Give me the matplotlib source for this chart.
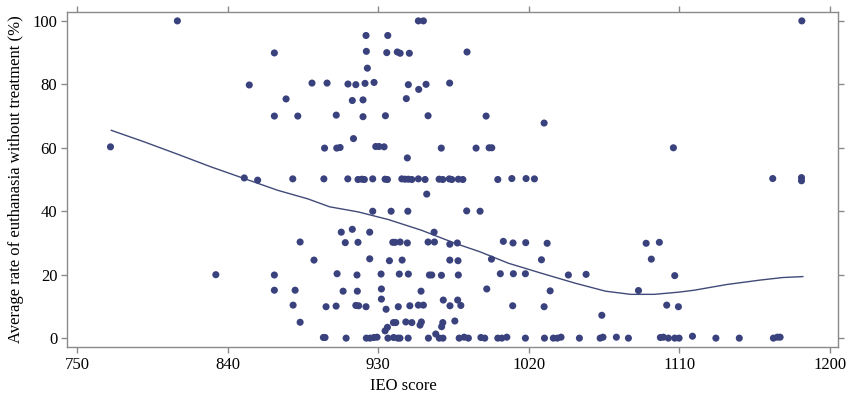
import numpy as np
import matplotlib
matplotlib.use('Agg')
import matplotlib.pyplot as plt

plt.rcParams['font.family'] = ['Liberation Serif', 'DejaVu Serif']
plt.rcParams['font.size'] = 12

#%% Scatter data (IEO score, rate %).
ieo_score = [
    770, 810, 833, 850, 858, 879, 853, 868, 875, 868, 882, 890.5,
    883.4, 891.7, 868, 868, 880.4, 879.2, 883.4,
    899.5, 912, 916.7, 914.6, 905, 915.3, 898, 905.3, 907.3,
    908, 914.6, 910.4, 918, 905.5, 917.4, 909.1, 917.6,
    898.9, 904.9, 916.7, 918.4,
    954.1, 957.1, 922.8, 935.8, 923, 935.2, 941.5, 943.2, 948.7, 983.2,
    923.6, 922.2, 927.6, 948.1, 954.3, 958.7, 972.8, 921, 946.9,
    921, 934.4, 959.9, 994.6, 1029.3,
    928.6, 930.6, 933.6, 967.8, 988.6, 996.4, 998, 1106.6, 947.5,
    # 50 row
    897.6, 911.9, 918.0, 920.3, 921.8, 926.8, 934.2, 935.6, 944.2, 946.1,
    948.1, 950.2, 954.1, 958.1, 966.5, 968.7, 972.6, 974.1, 978.0, 980.7,
    1001.6, 1010, 1018.5, 1023.5, 1166, 1183.2, 1183.2, 1183.4,
    959.1,
    # 40 row
    926.8, 937.8, 947.8, 983, 991,
    925, 963.5,
    # 30 row
    938.8, 940.2, 943.2, 947.5, 959.9, 963.7, 972.9, 977.4,
    1004.9, 1010.7, 1018.3, 1031.1, 1090.3, 1098.2,
    # 25 row
    925, 936.8, 944.4, 972.9, 977.8, 997.8, 1027.7, 1093.4,
    # 20 row
    931.8, 942.7, 948.1, 960.7, 962.1, 967.9, 978, 1003.1, 1010.9, 1018.1,
    1043.8, 1054.4, 1107.4,
    # 15 row
    932, 955.7, 995, 1032.9, 1085.7,
    932, 969, 977.6,
    # 10 row
    922.8, 934.8, 942.1, 949, 954.1, 957.1, 973, 979.5, 1010.5, 1029.3,
    1102.6, 1109.6,
    # 5 row
    939.2, 940.6, 946.6, 950.2, 955.9, 968.7, 975.9, 934.2, 935.6, 968, 955.1,
    1063.8,
    # 0 row
    897.3, 898.3, 910.9, 923, 925.2, 927.5, 929.4, 935.9, 939.3, 941.8,
    943.1, 948, 960.1, 964.5, 966.6, 968.8, 978.5, 981.5, 984, 991.5,
    993.8, 1001.6, 1004, 1007, 1018.1, 1029.5, 1034.8, 1037.2, 1039.4, 1050.4,
    1062.8, 1064.5, 1072.5, 1079.7, 1098.8, 1100.6, 1103.6, 1107.4, 1110, 1118,
    1132, 1146, 1166.4, 1168.8, 1170.4,
]

euth_rate = [
    60.3, 100, 20, 50.5, 49.8, 50.2, 79.8, 89.9, 75.4, 70, 70, 80.4,
    30.3, 24.6, 19.9, 15.1, 15.1, 10.4, 5,
    80.4, 80.1, 79.9, 74.9, 70.3, 62.9, 59.9, 59.9, 60.1,
    33.4, 34.3, 30.1, 30.2, 20.3, 19.9, 14.8, 14.8,
    9.9, 10.1, 10.3, 10.2,
    100, 100, 95.4, 95.4, 90.4, 90, 90.2, 89.8, 89.8, 90.2,
    85.1, 80.3, 80.6, 79.9, 78.4, 80, 80.4, 75.1, 75.5,
    69.8, 70.1, 70.1, 70, 67.8,
    60.4, 60.4, 60.3, 59.9, 59.9, 60, 60, 60, 56.8,
    50.2, 50.2, 50, 50.1, 50, 50.2, 50.1, 50, 50.2, 50.1,
    50.1, 50, 50.2, 50, 50.1, 50, 50.2, 50, 50.1, 50,
    50, 50.3, 50.3, 50.2, 50.3, 50.6, 49.6, 100,
    45.4,
    40, 40, 40, 40.1, 40,
    33.4, 33.4,
    30.2, 30.2, 30.3, 30, 30.3, 30.3, 29.6, 30,
    30.5, 30, 30.1, 29.9, 29.9, 30.2,
    25, 24.4, 24.6, 24.6, 24.4, 24.9, 24.7, 24.9,
    20.2, 20.2, 20.2, 19.9, 19.9, 19.8, 19.9, 20.3, 20.3, 20.3,
    19.9, 20.1, 19.7,
    15.5, 14.8, 15.5, 14.9, 15,
    12.3, 12, 12,
    9.9, 9.1, 9.9, 10.2, 10.4, 10.4, 10.2, 10.3, 10.2, 9.9,
    10.4, 9.9,
    4.9, 4.9, 5.1, 4.9, 5.1, 4.9, 5.4, 2.3, 3.4, 3.6, 4.1,
    7.2,
    0.2, 0.2, 0, 0, 0, 0.2, 0.3, 0, 0.2, 0,
    0, 0, 0, 1.3, 0, 0, 0, 0.3, 0, 0.2,
    0, 0, 0, 0.3, 0, 0, 0, 0, 0.3, 0,
    0, 0.3, 0.3, 0, 0.2, 0.3, 0, 0, 0, 0.6,
    0, 0, 0, 0.3, 0.3,
]

# smoothed (lowess-like) trend, traced
curve_x = [770.5, 790, 810, 830, 850, 870, 888, 901, 918, 936, 956, 976, 991,
           1008, 1028, 1048, 1066, 1081, 1095, 1110, 1119, 1138.5, 1158.5,
           1172, 1184]
curve_y = [65.5, 61.9, 58.0, 54.0, 50.3, 46.6, 43.9, 41.4, 39.8, 37.4, 34.0,
           29.9, 27.2, 23.6, 20.4, 17.3, 14.8, 13.8, 13.8, 14.5, 15.1, 16.9,
           18.3, 19.1, 19.4]

xticks = [750, 840, 930, 1020, 1110, 1200]
yticks = [0, 20, 40, 60, 80, 100]

fig = plt.figure(figsize=(8.46, 3.99), dpi=100)
ax = fig.add_axes([0.0792, 0.1303, 0.9113, 0.8396])

ax.scatter(ieo_score, euth_rate, s=26, c='#3a427e', edgecolors='none', zorder=3)
ax.plot(curve_x, curve_y, c='#414a78', lw=1.0, zorder=2)

ax.set_xlim(744, 1205)
ax.set_ylim(-2.8, 102.8)
ax.set_xticks(xticks)
ax.set_yticks(yticks)
ax.tick_params(direction='out', top=True, right=True, length=4,
               width=1, color='#8a8a8a', labelsize=12, pad=3)
for s in ax.spines.values():
    s.set_color('#8a8a8a')
    s.set_linewidth(1)

ax.set_xlabel('IEO score')
ax.xaxis.set_label_coords(0.436, -0.093)
ax.set_ylabel('Average rate of euthanasia without treatment (%)', labelpad=6)

plt.savefig('out.png', dpi=100)
